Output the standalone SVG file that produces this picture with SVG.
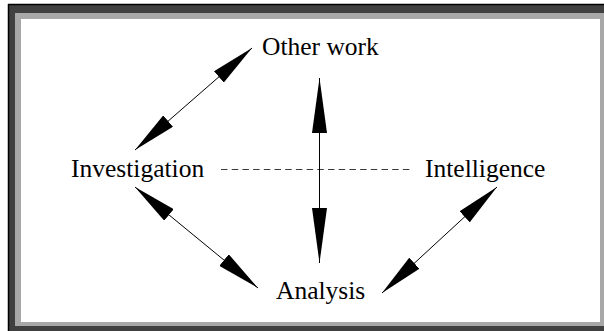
<svg xmlns="http://www.w3.org/2000/svg" width="604" height="331" viewBox="0 0 604 331">
  <style>
    .label { font-family: "Liberation Serif", "Times New Roman", serif; font-size: 25.5px; fill: #000; }
    .link { stroke: #000; stroke-width: 1; fill: none; }
    .dash { stroke: #3a3a3a; stroke-width: 1.2; stroke-dasharray: 6.5 4.2; fill: none; }
  </style>
  <defs>
    <marker id="head" markerUnits="userSpaceOnUse" markerWidth="44" markerHeight="15" refX="44" refY="7.5" orient="auto-start-reverse">
      <path d="M0,0 L44,7.5 L0,15 Z" fill="#000"/>
    </marker>
    <marker id="headLong" markerUnits="userSpaceOnUse" markerWidth="55" markerHeight="15" refX="55" refY="7.5" orient="auto-start-reverse">
      <path d="M0,0 L55,7.5 L0,15 Z" fill="#000"/>
    </marker>
  </defs>

  <!-- window frame -->
  <rect x="0" y="0" width="604" height="331" fill="#fff"/>
  <rect x="8" y="4" width="596" height="327" fill="#404040"/>
  <line x1="8.5" y1="4" x2="8.5" y2="331" stroke="#000" stroke-width="1.5"/>
  <line x1="8" y1="4.5" x2="604" y2="4.5" stroke="#000" stroke-width="1.5"/>
  <rect x="15" y="13" width="589" height="313" fill="#a8a8a8"/>
  <rect x="21" y="19" width="579" height="303" fill="#fff"/>

  <!-- connectors -->
  <g id="connectors">
    <line class="dash" x1="221" y1="169.5" x2="412" y2="169.5"/>
    <line class="link" x1="319.5" y1="78" x2="319.5" y2="263" marker-start="url(#headLong)" marker-end="url(#headLong)"/>
    <line class="link" x1="135" y1="150" x2="252" y2="48" marker-start="url(#head)" marker-end="url(#head)"/>
    <line class="link" x1="135" y1="187" x2="258" y2="288" marker-start="url(#head)" marker-end="url(#head)"/>
    <line class="link" x1="497" y1="187" x2="382" y2="293" marker-start="url(#head)" marker-end="url(#head)"/>
  </g>

  <!-- nodes -->
  <g id="other-work"><text class="label" x="262" y="55">Other work</text></g>
  <g id="investigation"><text class="label" x="71" y="177">Investigation</text></g>
  <g id="intelligence"><text class="label" x="425" y="177">Intelligence</text></g>
  <g id="analysis"><text class="label" x="276" y="299">Analysis</text></g>
</svg>
